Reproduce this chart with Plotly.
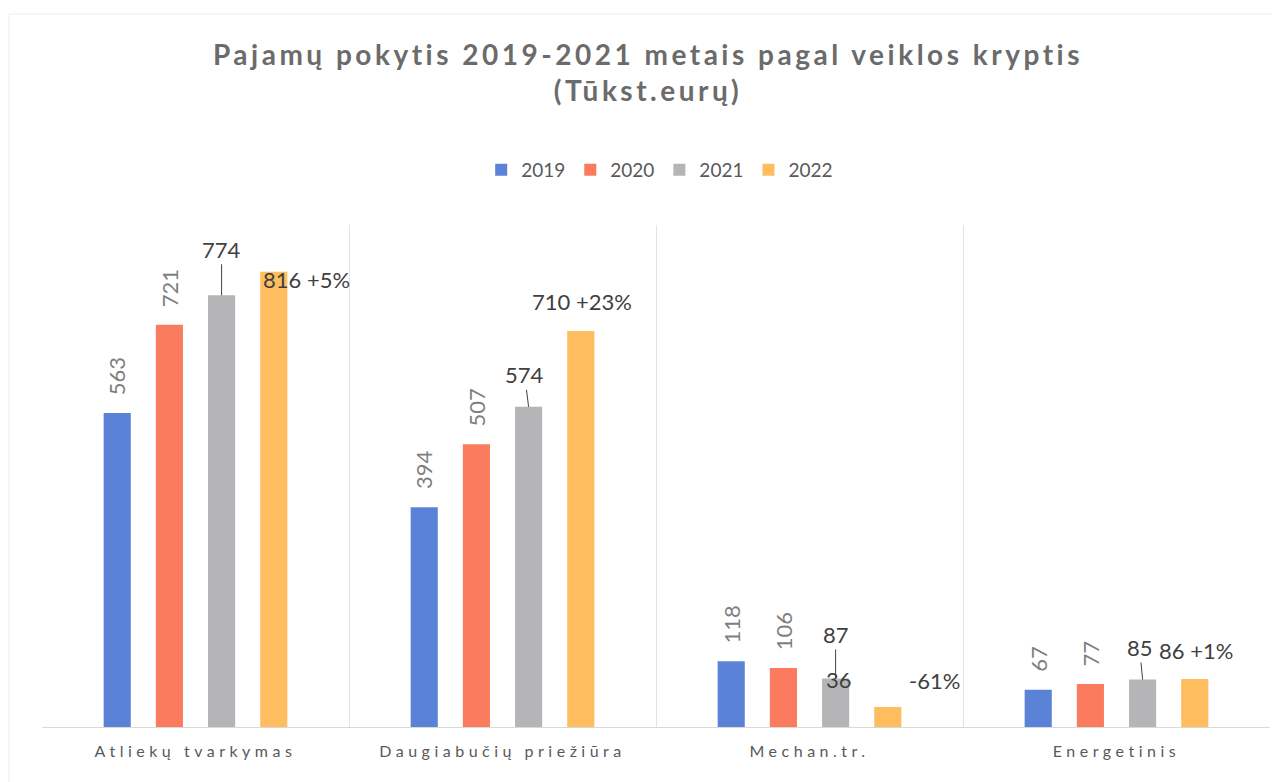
import plotly.graph_objects as go

categories = ["Atliekų tvarkymas", "Daugiabučių priežiūra", "Mechan.tr.", "Energetinis"]
years = ["2019", "2020", "2021", "2022"]
v2019 = [563, 394, 118, 67]
v2020 = [721, 507, 106, 77]
v2021 = [774, 574, 87, 85]
v2022 = [816, 710, 36, 86]
change_2022 = ["+5%", "+23%", "-61%", "+1%"]

colors = ["#5A83D8", "#FB7B5E", "#B5B5B8", "#FEBE5F"]
series = [v2019, v2020, v2021, v2022]

bargap = 0.32
slot = (1 - bargap) / 4
bar_w = slot * 0.52
xpos = list(range(len(categories)))

def bar_x(i, s):
    return xpos[i] + (s - 1.5) * slot

fig = go.Figure()
for s, (yr, vals, col) in enumerate(zip(years, series, colors)):
    fig.add_trace(go.Bar(
        name=yr,
        x=[bar_x(i, s) for i in range(len(categories))],
        y=vals,
        width=bar_w,
        marker=dict(color=col, line=dict(width=0)),
        hoverinfo="skip",
    ))

FONT = "Lato, Open Sans, sans-serif"
ann = []
lab_font = dict(family=FONT, size=22, color="#404040")
rot_font = dict(family=FONT, size=22, color="#7F7F7F")

# rotated labels for 2019/2020
for s, vals in [(0, v2019), (1, v2020)]:
    for i, v in enumerate(vals):
        ann.append(dict(x=bar_x(i, s), y=v, text=str(v), textangle=-90,
                        showarrow=False, xanchor="center", yanchor="bottom",
                        yshift=16, font=rot_font))

# 2021 labels with leader lines
lead = [(0, -46), (-4, -32), (0, -44), (-3, -32)]
for i, v in enumerate(v2021):
    ax, ay = lead[i]
    ann.append(dict(x=bar_x(i, 2), y=v, text=str(v), showarrow=True,
                    arrowhead=0, arrowwidth=1, arrowcolor="#404040",
                    ax=ax, ay=ay, standoff=0, font=lab_font))

# 2022 labels
for i, v in enumerate(v2022):
    if i == 0:
        ann.append(dict(x=bar_x(i, 3), y=v, text=f"{v} {change_2022[i]}",
                        showarrow=False, xanchor="left", xshift=-13, yshift=-8,
                        font=lab_font))
    elif i == 2:
        ann.append(dict(x=bar_x(i, 2), y=v2021[i], text=str(v),
                        showarrow=False, xshift=3, yshift=-1, font=lab_font))
        ann.append(dict(x=bar_x(i, 3), y=v, text=change_2022[i],
                        showarrow=False, xanchor="left", xshift=19, yshift=26,
                        font=lab_font))
    else:
        ann.append(dict(x=bar_x(i, 3), y=v, text=f"{v} {change_2022[i]}",
                        showarrow=False, yanchor="middle", yshift=29,
                        xshift=1, font=lab_font))

# faint page border (top and left edges)
border = [
    dict(type="line", xref="paper", yref="paper", x0=-33 / 1228, x1=1 + 18 / 1228,
         y0=1 + 211 / 502, y1=1 + 211 / 502, line=dict(color="#EDEDED", width=1)),
    dict(type="line", xref="paper", yref="paper", x0=-33 / 1228, x1=-33 / 1228,
         y0=1 + 211 / 502, y1=-60 / 502, line=dict(color="#EDEDED", width=1)),
]

fig.update_layout(
    width=1280, height=782,
    paper_bgcolor="white", plot_bgcolor="white",
    margin=dict(l=34, r=18, t=217, b=63),
    barmode="overlay",
    title=dict(
        text="Pajamų pokytis 2019-2021 metais pagal veiklos kryptis<br>(Tūkst.eurų)",
        x=0.5, xanchor="center", y=1 - 57 / 782, yanchor="middle",
        font=dict(family=FONT, size=28, color="#6B6B6B", weight="bold"),
    ),
    legend=dict(orientation="h", x=0.503, xanchor="center", y=1 + 55 / 502, yanchor="middle",
                font=dict(family=FONT, size=19, color="#595959"),
                traceorder="normal", itemwidth=30),
    xaxis=dict(
        range=[-0.5, len(categories) - 0.5],
        tickmode="array", tickvals=xpos, ticktext=categories,
        showgrid=False, zeroline=False, ticks="",
        showline=True, linecolor="#D9D9D9", linewidth=1,
        tickfont=dict(family=FONT, size=16, color="#595959"),
        ticklabelstandoff=10,
        minor=dict(tickmode="array", tickvals=[x - 0.5 for x in xpos] + [xpos[-1] + 0.5],
                   showgrid=True, gridcolor="#E3E3E3", gridwidth=1, ticks=""),
    ),
    yaxis=dict(range=[0, 900], visible=False, showgrid=False, zeroline=False),
    annotations=ann,
    shapes=border,
    bargap=bargap,
)

post = """
var gd = document.getElementById('{plot_id}');
function spaceText(){
  gd.querySelectorAll('.xtick text').forEach(function(t){ t.style.letterSpacing = '4.5px'; });
  gd.querySelectorAll('.gtitle').forEach(function(t){ t.style.letterSpacing = '3.5px'; });
}
spaceText();
gd.on('plotly_afterplot', spaceText);
"""

fig.write_html("out.html", post_script=post)
